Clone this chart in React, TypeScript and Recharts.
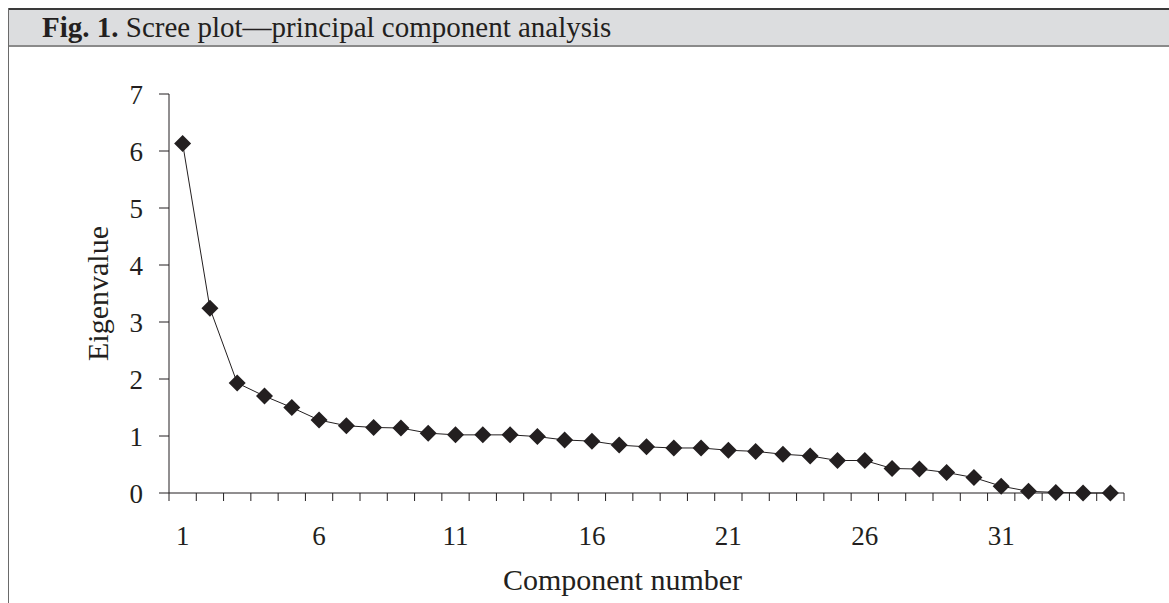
import { Line, LineChart, XAxis, YAxis } from "recharts";

const components = [
  1, 2, 3, 4, 5, 6, 7, 8, 9, 10, 11, 12, 13, 14, 15, 16, 17, 18, 19, 20, 21, 22, 23, 24, 25, 26, 27,
  28, 29, 30, 31, 32, 33, 34, 35,
];
const eigenvalues = [
  6.13, 3.24, 1.93, 1.7, 1.5, 1.28, 1.18, 1.15, 1.14, 1.05, 1.02, 1.02, 1.02, 0.99, 0.93, 0.91, 0.84,
  0.81, 0.79, 0.79, 0.75, 0.73, 0.68, 0.65, 0.57, 0.57, 0.43, 0.42, 0.36, 0.27, 0.12, 0.03, 0.01, 0,
  0,
];
const xLabelTicks = [1, 6, 11, 16, 21, 26, 31];
const yTicks = [0, 1, 2, 3, 4, 5, 6, 7];

const title = "Scree plot—principal component analysis";

const data = components.map((c, i) => ({ comp: c, value: eigenvalues[i] }));
// tick marks sit between the categories, labels sit on them
const boundaryTicks = [...components.map((c) => c - 0.5), components.length + 0.5];

const INK = "#231f20";
const FONT = "'Liberation Serif', 'Times New Roman', serif";

const Diamond = (props: any) => {
  const { cx, cy, index } = props;
  if (cx == null || cy == null) return <g key={index} />;
  const r = 8.5;
  return (
    <polygon
      key={index}
      points={`${cx},${cy - r} ${cx + r},${cy} ${cx},${cy + r} ${cx - r},${cy}`}
      fill={INK}
    />
  );
};

export default function App() {
  return (
    <div
      style={{
        position: "fixed",
        left: 0,
        top: 0,
        width: 1169,
        height: 603,
        background: "#fff",
        fontFamily: FONT,
        color: INK,
      }}
    >
      <div
        style={{
          position: "absolute",
          left: 8,
          top: 8,
          right: 0,
          height: 35,
          background: "#dcdddf",
          borderTop: "2px solid #3a3a3a",
          borderBottom: "2px solid #8a8a8a",
          fontSize: 29,
          lineHeight: "35px",
          paddingLeft: 34,
          boxSizing: "content-box",
          whiteSpace: "nowrap",
        }}
      >
        <b>Fig. 1.</b> {title}
      </div>
      <div
        style={{
          position: "absolute",
          left: 8,
          top: 8,
          bottom: 0,
          borderLeft: "1px solid #6a6a6a",
        }}
      />
      <div style={{ position: "absolute", left: 0, top: 0 }}>
        <LineChart
          width={1169}
          height={603}
          data={data}
          margin={{ top: 94, right: 45, left: 0, bottom: 22 }}
        >
          <XAxis
            xAxisId="b_labels"
            dataKey="comp"
            type="number"
            domain={[0.5, 35.5]}
            ticks={xLabelTicks}
            interval={0}
            height={66}
            axisLine={false}
            tickLine={false}
            tickSize={0}
            tickMargin={11}
            tick={{ fill: INK, fontSize: 27, fontFamily: FONT }}
            label={{
              content: (p: any) => {
                const vb = p.viewBox || { x: 169, y: 515, width: 955, height: 66 };
                return (
                  <text
                    x={vb.x + vb.width / 2 - 24}
                    y={vb.y + 75}
                    textAnchor="middle"
                    fill={INK}
                    fontSize={30}
                    fontFamily={FONT}
                  >
                    Component number
                  </text>
                );
              },
            }}
          />
          <XAxis
            xAxisId="a_ticks"
            dataKey="comp"
            type="number"
            domain={[0.5, 35.5]}
            ticks={boundaryTicks}
            interval={0}
            height={22}
            axisLine={{ stroke: INK, strokeWidth: 1 }}
            tickLine={{ stroke: INK, strokeWidth: 1 }}
            tickSize={8}
            tick={() => <g />}
          />
          <YAxis
            type="number"
            domain={[0, 7]}
            ticks={yTicks}
            interval={0}
            width={169}
            axisLine={{ stroke: INK, strokeWidth: 1 }}
            tickLine={{ stroke: INK, strokeWidth: 1 }}
            tickSize={10}
            tickMargin={16}
            tick={{ fill: INK, fontSize: 27, fontFamily: FONT }}
            label={{
              content: (p: any) => {
                const vb = p.viewBox || { x: 0, y: 94, width: 169, height: 399 };
                const cy = vb.y + vb.height / 2;
                return (
                  <text
                    x={108}
                    y={cy}
                    transform={`rotate(-90, 108, ${cy})`}
                    textAnchor="middle"
                    fill={INK}
                    fontSize={30}
                    fontFamily={FONT}
                  >
                    Eigenvalue
                  </text>
                );
              },
            }}
          />
          <Line
            xAxisId="a_ticks"
            type="linear"
            dataKey="value"
            stroke={INK}
            strokeWidth={1}
            dot={Diamond}
            activeDot={false}
            isAnimationActive={false}
          />
        </LineChart>
      </div>
    </div>
  );
}
